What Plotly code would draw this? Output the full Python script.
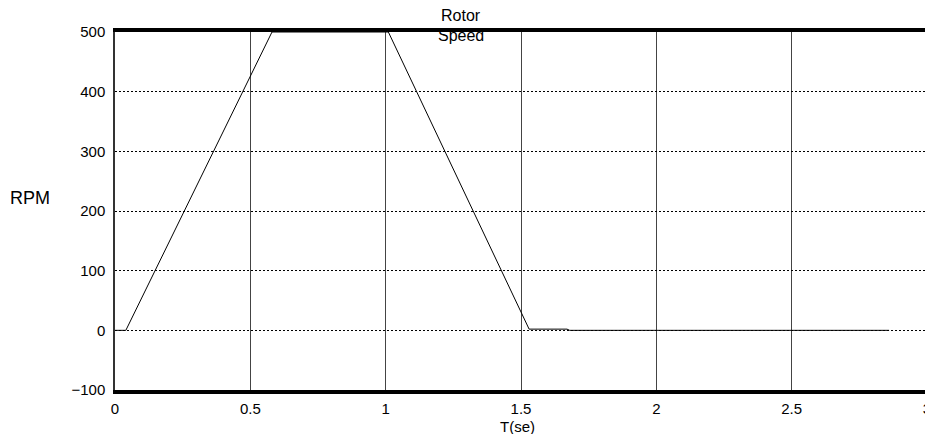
import plotly.graph_objects as go

# Rotor speed trace (key points)
time_s = [0.0, 0.04, 0.58, 1.01, 1.53, 1.67, 1.68, 2.86]
rpm = [0, 0, 500, 500, 2, 2, 0, 0]

x_ticks = [0, 0.5, 1, 1.5, 2, 2.5, 3]
x_tick_text = ['0', '0.5', '1', '1.5', '2', '2.5', '3']
y_ticks = [-100, 0, 100, 200, 300, 400, 500]

font_family = 'Liberation Sans, Arial, sans-serif'

# the page body adds an 8px offset, so the figure is a bit smaller than the window
OFF = 8
W, H = 933 - OFF, 434 - OFF
# plot area in page pixels: x 115..927, y 32..390
L, R, T, B = 115 - OFF, 933 - 927, 32 - OFF, 434 - 390
plot_w = W - L - R
plot_h = H - T - B


def px(x):
    # page pixel column -> paper x
    return (x - OFF - L) / plot_w


def py(y):
    # page pixel row -> paper y
    return (H - B - (y - OFF)) / plot_h


def label(text, x, y, size=15):
    return dict(text=text, x=px(x), y=py(y), xref='paper', yref='paper',
                xanchor='center', yanchor='middle', showarrow=False,
                font=dict(size=size))


fig = go.Figure()
fig.add_trace(go.Scatter(
    x=time_s, y=rpm, mode='lines',
    line=dict(color='black', width=1),
    showlegend=False, hoverinfo='skip',
))

fig.update_layout(
    width=W, height=H,
    margin=dict(l=L, r=R, t=T, b=B, autoexpand=False),
    paper_bgcolor='white', plot_bgcolor='white',
    font=dict(family=font_family, size=15, color='black'),
    xaxis=dict(
        range=[0, 3], tickvals=x_ticks, ticktext=x_tick_text,
        showline=True, linecolor='black', linewidth=4, mirror=True,
        showgrid=True, gridcolor='#444444', gridwidth=1,
        ticks='', ticklabelstandoff=2, zeroline=False, automargin=False,
    ),
    yaxis=dict(
        range=[-100, 500], tickvals=y_ticks,
        showline=True, linecolor='#333333', linewidth=1.5, mirror=True,
        showgrid=True, gridcolor='black', gridwidth=1, griddash='2px,2px',
        ticks='', ticklabelstandoff=5, zeroline=False, automargin=False,
    ),
    annotations=[
        label('Rotor', 461, 15, 16),
        label('Speed', 461, 36, 16),
        label('RPM', 30, 198, 18),
        label('T(se)', 517, 426, 15),
    ],
)

fig.write_html("out.html")
